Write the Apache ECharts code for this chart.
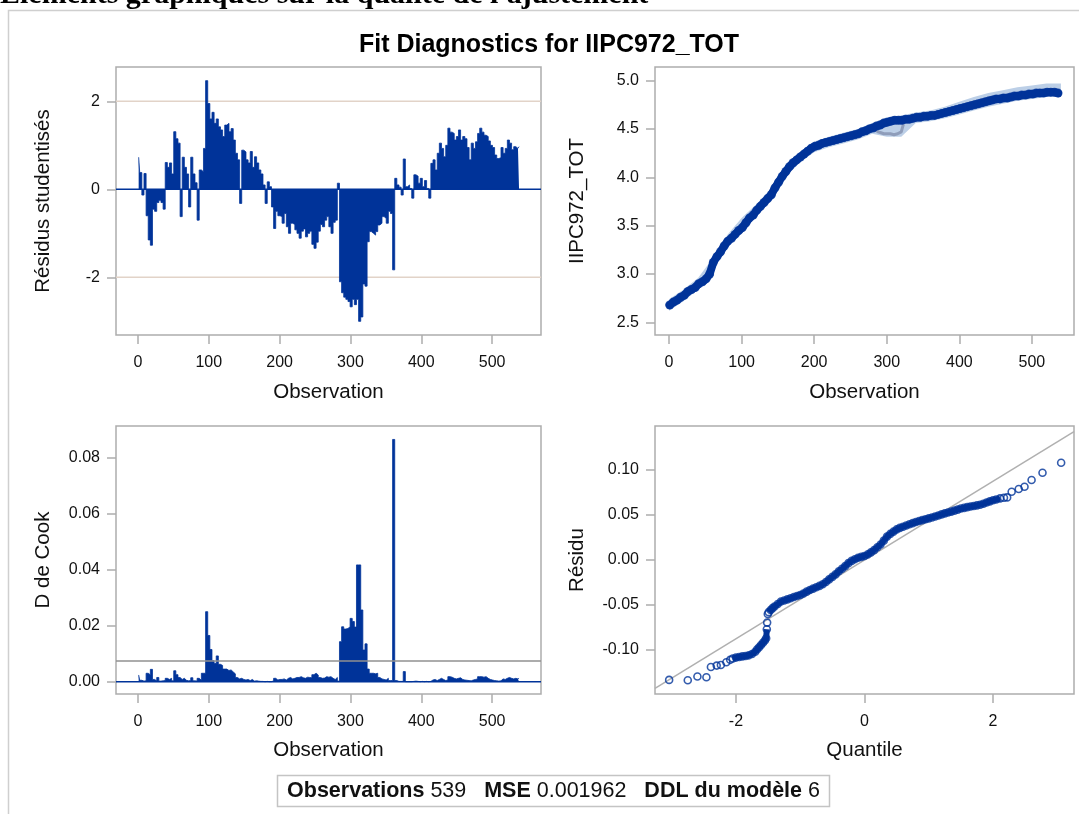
<!DOCTYPE html>
<html><head><meta charset="utf-8">
<script src="https://cdn.jsdelivr.net/npm/echarts@6/dist/echarts.min.js"></script>
<style>html,body{margin:0;padding:0;background:#fff;}#c{width:1079px;height:814px;}</style>
</head><body><div id="c"></div>
<script>
// ---------- DATA ----------
// Studentized residuals, one stored value every 3 observations (obs 1, 4, 7, ...)
const residStep = 3;
const studentResid = [
 0.73,0.38,-0.13,0.36,-0.6,-1.15,-1.27,-0.45,-0.5,-0.3,
 -0.25,-0.3,-0.45,0.61,0.5,0.6,0.35,1.31,1.15,1.05,
 -0.62,0.73,0.5,0.35,-0.4,0.73,0.35,0.15,-0.7,0.44,
 0.4,0.93,2.47,1.95,1.6,1.75,1.5,1.6,1.42,1.35,
 1.2,1.46,1.5,1.31,1.38,1.12,0.82,0.67,-0.32,0.89,
 0.85,0.67,0.6,0.86,0.5,0.74,0.6,0.44,0.35,0.1,
 -0.32,0.17,0.06,-0.4,-0.89,-0.5,-0.6,-0.62,-0.77,-0.55,
 -0.85,-1.0,-0.77,-0.8,-0.92,-1.0,-1.11,-0.95,-0.9,-1.08,
 -1.0,-0.95,-1.25,-1.34,-1.2,-0.95,-0.8,-0.85,-0.7,-0.62,
 -0.85,-1.0,-0.75,-0.7,0.14,-2.1,-2.35,-2.45,-2.5,-2.55,
 -2.67,-2.5,-2.62,-2.5,-3.0,-2.9,-2.15,-2.2,-1.19,-0.96,
 -1.0,-1.04,-0.96,-0.81,-0.77,-0.62,-0.66,-0.77,-0.5,-0.55,
 -1.83,0.25,0.1,0.05,-0.13,0.69,0.06,0.1,0.02,-0.2,
 0.33,0.3,0.14,0.25,0.06,0.2,0.02,-0.2,0.59,0.67,
 0.44,0.82,1.05,0.93,0.74,1.0,1.39,1.3,1.27,1.12,
 1.2,1.35,1.12,1.2,1.15,0.95,0.67,1.05,0.93,1.08,
 1.27,1.39,1.3,1.23,1.2,1.1,1.0,0.95,0.78,0.7,
 0.72,0.95,0.82,0.93,1.12,1.05,0.9,0.97,0.93,0.97
];
const residRefs = [-2, 2];

// Cook's D, same observations as the residuals
const cooksD = [
 0.0024,0.0005,0.0002,0.0003,0.003,0.0025,0.0044,0.0008,0.0003,0.0015,
 0.0002,0.0003,0.0004,0.0012,0.0008,0.0012,0.0003,0.0039,0.0025,0.0015,
 0.0008,0.0012,0.0005,0.0003,0.0004,0.0014,0.0003,0.0002,0.0012,0.0005,
 0.003,0.003,0.025,0.0165,0.0115,0.0075,0.0065,0.0092,0.0062,0.0058,
 0.0045,0.0045,0.004,0.0042,0.0035,0.0028,0.0015,0.001,0.0012,0.0008,
 0.0006,0.0008,0.0004,0.0008,0.0002,0.0003,0.0002,0.0001,0.0001,0,
 0.0001,0,0,0.0003,0.0012,0.0006,0.0008,0.0008,0.001,0.0006,
 0.0012,0.0015,0.001,0.0012,0.0015,0.0015,0.0018,0.0014,0.0012,0.0016,
 0.0015,0.0014,0.0025,0.003,0.0024,0.0015,0.0012,0.0013,0.0018,0.0016,
 0.0018,0.0012,0.0008,0.0015,0.0002,0.0143,0.0196,0.0188,0.019,0.0196,
 0.0226,0.0215,0.0195,0.0417,0.0417,0.0256,0.0113,0.0135,0.0045,0.003,
 0.003,0.0028,0.003,0.0015,0.001,0.0008,0.0006,0.0012,0.0004,0.0004,
 0.0865,0.0004,0.0001,0.0001,0.0001,0.0036,0,0,0,0.0001,
 0.0002,0.0001,0,0.0001,0,0.0001,0,0.0001,0.0006,0.0008,
 0.0004,0.0008,0.0012,0.0008,0.0004,0.0006,0.0018,0.0016,0.0012,0.001,
 0.0012,0.0014,0.0008,0.0006,0.0005,0.0004,0.0003,0.0006,0.0008,0.001,
 0.0018,0.0018,0.0016,0.0018,0.0012,0.0008,0.0006,0.0004,0.0003,0.0002,
 0.0003,0.001,0.0008,0.0012,0.0015,0.0012,0.001,0.0012,0.001,0.0012
];
const cookCutoff = 0.0074;

// IIPC972_TOT, one value every 5 observations (obs 1, 6, 11, ...)
const fitStep = 5;
const iipcValues = [
 2.68,2.71,2.73,2.76,2.78,2.82,2.84,2.86,2.90,2.92,
 2.95,3.00,3.12,3.18,3.23,3.29,3.34,3.37,3.41,3.45,
 3.48,3.53,3.58,3.61,3.66,3.70,3.74,3.78,3.82,3.89,
 3.95,4.01,4.06,4.11,4.15,4.18,4.21,4.24,4.27,4.30,
 4.32,4.33,4.35,4.36,4.37,4.38,4.39,4.40,4.41,4.42,
 4.43,4.44,4.45,4.47,4.48,4.50,4.51,4.53,4.54,4.56,
 4.57,4.58,4.59,4.59,4.59,4.60,4.60,4.61,4.62,4.62,
 4.63,4.63,4.64,4.64,4.65,4.66,4.67,4.68,4.69,4.70,
 4.71,4.72,4.73,4.74,4.75,4.76,4.77,4.78,4.79,4.80,
 4.81,4.81,4.82,4.82,4.83,4.84,4.84,4.85,4.85,4.86,
 4.86,4.87,4.87,4.87,4.88,4.88,4.88,4.87
];
const bandObs  = [0,20,40,60,80,100,120,140,160,180,200,220,240,260,280,300,320,340,360,380,400,420,440,460,480,500,520,540];
const bandLow  = [2.62,2.72,2.84,3.04,3.28,3.42,3.60,3.76,4.00,4.15,4.26,4.31,4.35,4.39,4.45,4.42,4.42,4.56,4.58,4.61,4.65,4.69,4.73,4.76,4.79,4.81,4.83,4.83];
const bandHigh = [2.74,2.84,2.96,3.16,3.40,3.58,3.72,3.88,4.12,4.26,4.37,4.42,4.46,4.50,4.56,4.62,4.64,4.67,4.69,4.73,4.78,4.83,4.87,4.90,4.93,4.95,4.97,4.97];
const grayObs = [284,288,292,296,300,305,310,315,320,323];
const grayVal = [4.50,4.47,4.46,4.45,4.45,4.45,4.44,4.45,4.47,4.55];

// Q-Q plot of residuals
const qqQuantile = [-3.04,-2.75,-2.60,-2.46,-2.39,-2.30,-2.235,-2.15,-2.09,
 -2.05,-2.00,-1.95,-1.90,-1.85,-1.80,-1.75,-1.70,
 -1.67,-1.64,-1.61,-1.58,-1.55,-1.53,
 -1.52,-1.515,-1.505,-1.49,-1.46,-1.43,-1.40,
 -1.35,-1.30,-1.25,-1.20,-1.15,-1.10,-1.05,-1.00,-0.95,-0.90,-0.85,-0.80,-0.75,-0.70,-0.65,-0.60,-0.55,-0.50,-0.45,-0.40,-0.35,-0.30,-0.25,-0.20,-0.15,-0.10,-0.05,
 0.00,0.05,0.10,0.15,0.20,0.25,0.30,0.35,0.40,0.45,0.50,0.55,0.60,0.65,0.70,0.75,0.80,0.85,0.90,0.95,1.00,1.05,1.10,1.15,1.20,1.25,1.30,1.35,1.40,1.45,1.50,1.55,1.60,1.65,1.70,1.75,1.80,1.85,1.90,1.95,2.00,2.05,
 2.11,2.17,2.22,2.29,2.40,2.49,2.60,2.77,3.06];
const qqResidual = [-0.1333,-0.1337,-0.1296,-0.1304,-0.1189,-0.1174,-0.1167,-0.1137,-0.1110,
 -0.1095,-0.1085,-0.1078,-0.1072,-0.1068,-0.1060,-0.1045,-0.1020,
 -0.0993,-0.0970,-0.0945,-0.0920,-0.0895,-0.0870,
 -0.0770,-0.0696,-0.0600,-0.0580,-0.0556,-0.0535,-0.0517,
 -0.0490,-0.0462,-0.0450,-0.0438,-0.0425,-0.0412,-0.0400,-0.0389,-0.0372,-0.0352,-0.0334,-0.0318,-0.0303,-0.0288,-0.0270,-0.0245,-0.0215,-0.0188,-0.0160,-0.0125,-0.0098,-0.0068,-0.0035,-0.0010,0.0008,0.0025,0.0035,
 0.0045,0.0062,0.0085,0.0110,0.0142,0.0172,0.0215,0.0260,0.0290,0.0315,0.0340,0.0357,0.0370,0.0383,0.0397,0.0410,0.0422,0.0433,0.0443,0.0453,0.0463,0.0473,0.0484,0.0495,0.0507,0.0518,0.0528,0.0538,0.0549,0.0560,0.0572,0.0580,0.0588,0.0595,0.0600,0.0607,0.0615,0.0625,0.0640,0.0652,0.0665,0.0672,
 0.0685,0.0692,0.0696,0.0759,0.0789,0.0815,0.0889,0.0970,0.1081];
const qqSlope = 0.0438, qqIntercept = 0.0;
// index ranges of the Q-Q points that overlap into a solid band
const qqDenseRuns = [[9, 23], [26, 99]];

// Tick labels
const obsTicks = [0,100,200,300,400,500];
const residTicks = [-2,0,2];
const iipcTicks = [2.5,3.0,3.5,4.0,4.5,5.0];
const cookTicks = [0,0.02,0.04,0.06,0.08];
const qqXTicks = [-2,0,2];
const qqYTicks = [-0.10,-0.05,0,0.05,0.10];

// Texts
const pageHeading = "Éléments graphiques sur la qualité de l'ajustement";
const chartTitle = 'Fit Diagnostics for IIPC972_TOT';
const footerText = '{b|Observations} 539   {b|MSE} 0.001962   {b|DDL du modèle} 6';

// ---------- CHART ----------
const BLUE = '#003399';
const FRAME = '#adadad';
const FONT = "'Liberation Sans', Arial, sans-serif";

const G = [
  {left:116, top:67, width:425, height:268},
  {left:655, top:67, width:419, height:268},
  {left:116, top:426, width:425, height:268},
  {left:655, top:426, width:419, height:268}
];
const X_EXT = [[-31,569],[-19.3,558],[-31,569],[-3.26,3.26]];
const Y_EXT = [[-3.31,2.78],[2.37,5.14],[-0.0044,0.0913],[-0.149,0.149]];

function axisCommon(ticks, fmt, margin) {
  return {
    axisLine:{show:false, onZero:false},
    splitLine:{show:false},
    axisTick:{show:true, inside:false, length:9, customValues:ticks, lineStyle:{color:FRAME, width:1.5}},
    axisLabel:{customValues:ticks, formatter:fmt, fontSize:16, color:'#111', fontFamily:FONT, margin:margin}
  };
}
const xTickSets = [obsTicks, obsTicks, obsTicks, qqXTicks];
const yTickSets = [residTicks, iipcTicks, cookTicks, qqYTicks];
const yFmts = [v=>String(v), v=>Number(v).toFixed(1), v=>Number(v).toFixed(2), v=>Number(v).toFixed(2)];

const residObs = studentResid.map((_, i) => 1 + residStep * i);
const fitObs = iipcValues.map((_, i) => 1 + fitStep * i);
const qqPoints = qqQuantile.map((q, i) => [q, qqResidual[i]]);

const option = {
  animation:false,
  backgroundColor:'#fff',
  grid: G.map(g => Object.assign({show:true, borderColor:FRAME, borderWidth:1.5, backgroundColor:'#fff', outerBoundsMode:'none'}, g)),
  xAxis: G.map((g, k) => Object.assign({gridIndex:k, type:'value', min:X_EXT[k][0], max:X_EXT[k][1]},
    axisCommon(xTickSets[k], v=>String(v), 20))),
  yAxis: G.map((g, k) => Object.assign({gridIndex:k, type:'value', min:Y_EXT[k][0], max:Y_EXT[k][1]},
    axisCommon(yTickSets[k], yFmts[k], 16))),
  series: [
    // ---- top-left: studentized residuals (needles drawn as a stepped area to 0)
    ...residRefs.map(r => ({type:'line', xAxisIndex:0, yAxisIndex:0, silent:true, symbol:'none', z:1,
      data:[[X_EXT[0][0], r],[X_EXT[0][1], r]], lineStyle:{color:'#e2d3c8', width:1.5}})),
    {type:'line', step:'middle', xAxisIndex:0, yAxisIndex:0, silent:true, symbol:'none', z:2,
      lineStyle:{color:BLUE, width:0.8}, areaStyle:{color:BLUE, opacity:1},
      data: studentResid.map((v, i) => [residObs[i], v])},
    {type:'line', xAxisIndex:0, yAxisIndex:0, silent:true, symbol:'none', z:3,
      data:[[X_EXT[0][0], 0],[X_EXT[0][1], 0]], lineStyle:{color:BLUE, width:1.5}},
    // ---- top-right: IIPC972_TOT vs observation
    {type:'custom', xAxisIndex:1, yAxisIndex:1, silent:true, z:1, clip:true, data:[[bandObs[0], bandLow[0]]],
      renderItem:(params, api) => {
        const pts = [];
        bandObs.forEach((o, i) => pts.push(api.coord([o, bandHigh[i]])));
        for (let i = bandObs.length - 1; i >= 0; i--) pts.push(api.coord([bandObs[i], bandLow[i]]));
        return {type:'polygon', shape:{points:pts}, style:{fill:'#bccfe7'}};
      }},
    {type:'line', xAxisIndex:1, yAxisIndex:1, silent:true, symbol:'none', z:2,
      data: grayObs.map((o, i) => [o, grayVal[i]]), lineStyle:{color:'#8f9dba', width:3}},
    {type:'line', xAxisIndex:1, yAxisIndex:1, silent:true, symbol:'none', z:3,
      data: iipcValues.map((v, i) => [fitObs[i], v]), lineStyle:{color:BLUE, width:8, cap:'round', join:'round'}},
    {type:'scatter', xAxisIndex:1, yAxisIndex:1, silent:true, z:4, symbol:'circle', symbolSize:9,
      itemStyle:{color:BLUE}, data: iipcValues.map((v, i) => [fitObs[i], v])},
    // ---- bottom-left: Cook's D
    {type:'line', step:'middle', xAxisIndex:2, yAxisIndex:2, silent:true, symbol:'none', z:2,
      lineStyle:{color:BLUE, width:0.8}, areaStyle:{color:BLUE, opacity:1},
      data: cooksD.map((v, i) => [residObs[i], v])},
    {type:'line', xAxisIndex:2, yAxisIndex:2, silent:true, symbol:'none', z:3,
      data:[[X_EXT[2][0], 0],[X_EXT[2][1], 0]], lineStyle:{color:BLUE, width:1.5}},
    {type:'line', xAxisIndex:2, yAxisIndex:2, silent:true, symbol:'none', z:4,
      data:[[X_EXT[2][0], cookCutoff],[X_EXT[2][1], cookCutoff]], lineStyle:{color:'#909090', width:1.5}},
    // ---- bottom-right: Q-Q plot
    {type:'line', xAxisIndex:3, yAxisIndex:3, silent:true, symbol:'none', z:1,
      data:[[X_EXT[3][0], qqIntercept + qqSlope*X_EXT[3][0]],[X_EXT[3][1], qqIntercept + qqSlope*X_EXT[3][1]]],
      lineStyle:{color:'#b0b0b0', width:1.5}},
    ...qqDenseRuns.map(r => ({type:'line', xAxisIndex:3, yAxisIndex:3, silent:true, symbol:'none', z:2,
      data: qqPoints.slice(r[0], r[1] + 1), lineStyle:{color:BLUE, width:6, join:'round'}})),
    {type:'scatter', xAxisIndex:3, yAxisIndex:3, silent:true, z:3, symbol:'circle', symbolSize:7,
      itemStyle:{color:'rgba(0,0,0,0)', borderColor:BLUE, borderWidth:1.6},
      data: qqPoints}
  ],
  graphic: [
    {type:'rect', silent:true, z:-10, shape:{x:8.5, y:10.5, width:1075, height:830},
      style:{fill:'#fff', stroke:'#cfcfcf', lineWidth:1.5}},
    {type:'text', silent:true, x:0, y:-5, style:{text:pageHeading, fontFamily:"'Liberation Serif', 'Times New Roman', serif",
      fontWeight:'bold', fontSize:30, fill:'#000', align:'left', verticalAlign:'middle', textAlign:'left', textVerticalAlign:'middle'}},
    {type:'text', silent:true, x:549, y:45, style:{text:chartTitle, fontFamily:FONT, fontWeight:'bold', fontSize:25,
      fill:'#000', align:'center', verticalAlign:'middle', textAlign:'center', textVerticalAlign:'middle'}},
    ...[['Observation',328.5,392],['Observation',864.5,392],['Observation',328.5,750],['Quantile',864.5,750]].map(t => ({
      type:'text', silent:true, x:t[1], y:t[2], style:{text:t[0], fontFamily:FONT, fontSize:20.5, fill:'#111',
      align:'center', verticalAlign:'middle', textAlign:'center', textVerticalAlign:'middle'}})),
    ...[['Résidus studentisés',43,201],['IIPC972_TOT',577,201],['D de Cook',43,560],['Résidu',577,560]].map(t => ({
      type:'text', silent:true, x:t[1], y:t[2], rotation:Math.PI/2, style:{text:t[0], fontFamily:FONT, fontSize:20.5, fill:'#111',
      align:'center', verticalAlign:'middle', textAlign:'center', textVerticalAlign:'middle'}})),
    {type:'rect', silent:true, shape:{x:277.5, y:775.5, width:552, height:31}, style:{fill:'#fff', stroke:'#c4c4c4', lineWidth:1.5}},
    {type:'text', silent:true, x:553.5, y:791, style:{text:footerText, fontFamily:FONT, fontSize:21.5, fill:'#111',
      align:'center', verticalAlign:'middle', textAlign:'center', textVerticalAlign:'middle',
      rich:{b:{fontFamily:FONT, fontSize:21.5, fontWeight:'bold', fill:'#111'}}}}
  ]
};
const chart = echarts.init(document.getElementById('c'), null, {renderer:'canvas'});
chart.setOption(option);
</script>
</body></html>
